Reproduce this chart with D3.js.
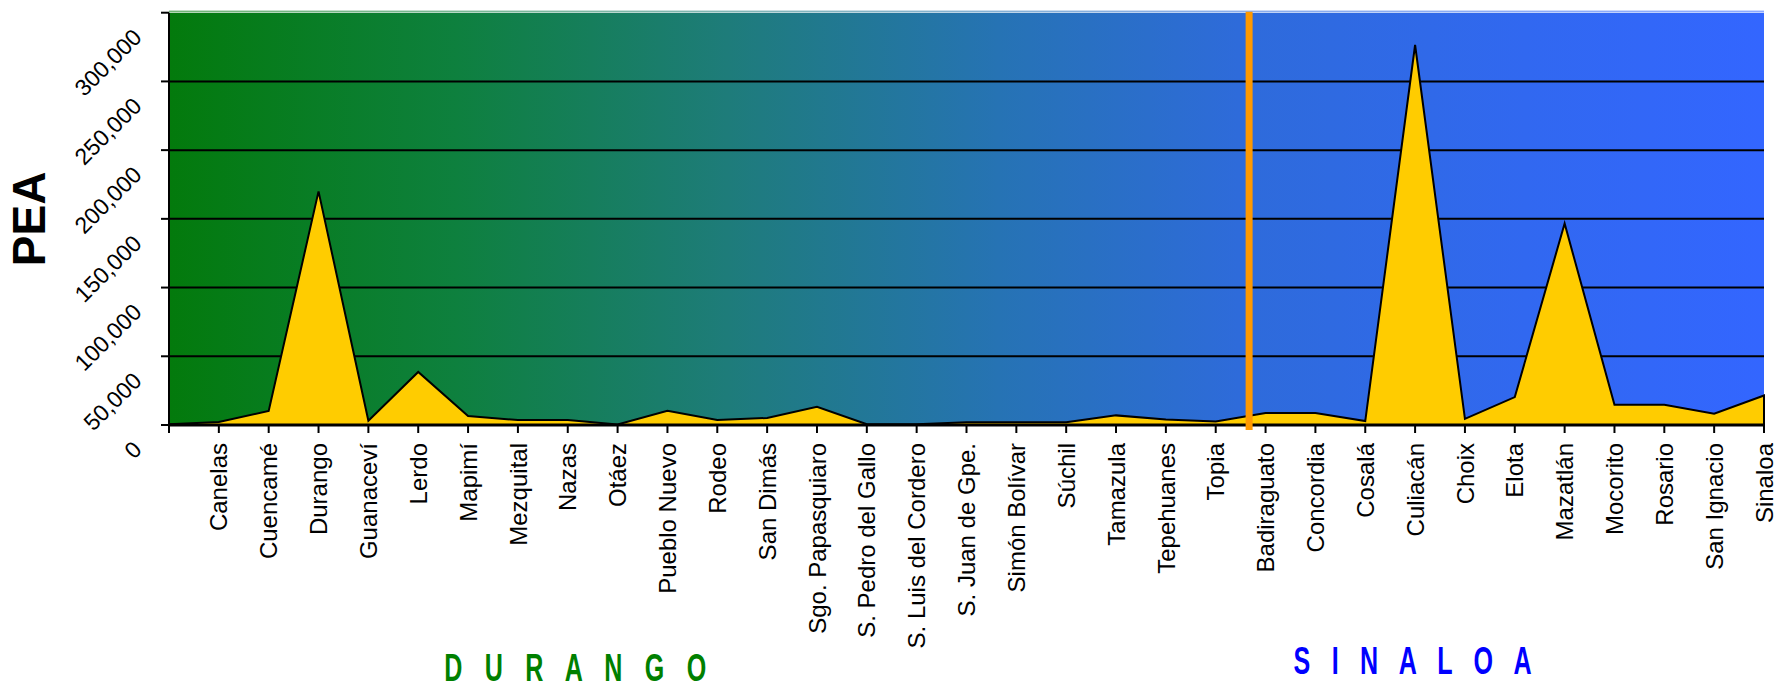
<!DOCTYPE html>
<html>
<head>
<meta charset="utf-8">
<script src="https://cdn.jsdelivr.net/npm/d3@7"></script>
<style>
  html, body { margin: 0; padding: 0; background: #ffffff; }
  svg { display: block; }
  text { font-family: "Liberation Sans", Arial, sans-serif; }
</style>
</head>
<body>
<svg id="chart" width="1774" height="687"></svg>
<script>
// ---- data ----
const categories = ["", "Canelas", "Cuencamé", "Durango", "Guanaceví", "Lerdo", "Mapimí", "Mezquital", "Nazas", "Otáez",
  "Pueblo Nuevo", "Rodeo", "San Dimás", "Sgo. Papasquiaro", "S. Pedro del Gallo", "S. Luis del Cordero", "S. Juan de Gpe.",
  "Simón Bolívar", "Súchil", "Tamazula", "Tepehuanes", "Topia",
  "Badiraguato", "Concordia", "Cosalá", "Culiacán", "Choix", "Elota", "Mazatlán", "Mocorito", "Rosario", "San Ignacio", "Sinaloa"];
const pea = [500, 2200, 10200, 170000, 3100, 38600, 6500, 3600, 3600, 300,
  10400, 3600, 5100, 13300, 500, 500, 2000,
  2000, 2000, 7000, 4000, 2500,
  8800, 8800, 2900, 276500, 4500, 20300, 146600, 14700, 14700, 8200, 21500];
const yTicks = [0, 50000, 100000, 150000, 200000, 250000, 300000];
const yTitle = "PEA";
const stateNames = ["D U R A N G O", "S I N A L O A"];
const dividerAfter = "Topia";
const dividerOffset = 0.67; // fraction of a category step after "Topia"

// ---- layout ----
const svg = d3.select("#chart");
const margin = { left: 169, right: 10, top: 12.7, bottom: 262 };
const W = 1774, H = 687;
const x0 = margin.left, x1 = W - margin.right, y0 = margin.top, y1 = H - margin.bottom;

const x = d3.scalePoint().domain(categories).range([x0, x1]);
const y = d3.scaleLinear().domain([0, 300000]).range([y1, y0]);

// gradient
const defs = svg.append("defs");
const grad = defs.append("linearGradient").attr("id", "bg").attr("x1", 0).attr("x2", 1).attr("y1", 0).attr("y2", 0);
[[0, "rgb(3,122,12)"], [0.18, "rgb(14,128,62)"], [0.35, "rgb(30,124,122)"], [0.52, "rgb(38,115,180)"],
 [0.67, "rgb(46,107,218)"], [0.85, "rgb(49,104,240)"], [1, "rgb(51,102,255)"]]
  .forEach(([o, c]) => grad.append("stop").attr("offset", o).attr("stop-color", c));

// thin top line
svg.append("rect").attr("x", x0).attr("y", y0 - 2).attr("width", x1 - x0).attr("height", 1).attr("fill", "url(#bg)").attr("opacity", 0.8);
// plot background
svg.append("rect").attr("x", x0).attr("y", y0).attr("width", x1 - x0).attr("height", y1 - y0).attr("fill", "url(#bg)");

// gridlines
svg.append("g").selectAll("line").data(yTicks.filter(d => d > 0 && d < 300000)).join("line")
  .attr("x1", x0).attr("x2", x1).attr("y1", d => y(d)).attr("y2", d => y(d))
  .attr("stroke", "#000").attr("stroke-width", 2);

// area
const area = d3.area().x((d, i) => x(categories[i])).y0(y(0)).y1(d => y(d));
svg.append("path").datum(pea).attr("d", area)
  .attr("fill", "#ffcc00").attr("stroke", "#000").attr("stroke-width", 2).attr("stroke-linejoin", "miter");

// y axis
svg.append("line").attr("x1", x0).attr("x2", x0).attr("y1", y0).attr("y2", y1).attr("stroke", "#000").attr("stroke-width", 2);
svg.append("g").selectAll("line").data(yTicks).join("line")
  .attr("x1", x0 - 8).attr("x2", x0).attr("y1", d => y(d)).attr("y2", d => y(d))
  .attr("stroke", "#000").attr("stroke-width", 2);
const fmt = d3.format(",");
svg.append("g").selectAll("text").data(yTicks).join("text")
  .attr("transform", d => `translate(${x0 - 26},${y(d) + 26}) rotate(-45)`)
  .attr("text-anchor", "end")
  .attr("font-size", 23)
  .attr("fill", "#000")
  .text(d => fmt(d));

// x axis
svg.append("line").attr("x1", x0 - 1).attr("x2", x1 + 1).attr("y1", y1).attr("y2", y1).attr("stroke", "#000").attr("stroke-width", 3);
svg.append("g").selectAll("line").data(categories).join("line")
  .attr("x1", d => x(d)).attr("x2", d => x(d)).attr("y1", y1).attr("y2", y1 + 8)
  .attr("stroke", "#000").attr("stroke-width", 2);
svg.append("g").selectAll("text").data(categories).join("text")
  .attr("transform", d => `translate(${x(d)},${y1 + 18}) rotate(-90)`)
  .attr("text-anchor", "end")
  .attr("dy", "0.36em")
  .attr("font-size", 24)
  .attr("fill", "#000")
  .text(d => d);

// divider
const xd = x(dividerAfter) + dividerOffset * x.step();
svg.append("line").attr("x1", xd).attr("x2", xd).attr("y1", y0 - 1).attr("y2", y1 + 5)
  .attr("stroke", "#ff9900").attr("stroke-width", 7);

// y title
svg.append("text")
  .attr("transform", `translate(${29},${(y0 + y1) / 2 + 0}) rotate(-90)`)
  .attr("text-anchor", "middle").attr("dy", "0.35em")
  .attr("font-size", 46).attr("font-weight", "bold").attr("fill", "#000")
  .text(yTitle);

// state labels
const stateLayout = [
  { cx: x("Otáez") - 0.85 * x.step(), base: 681, width: 262, color: "#008000" },
  { cx: x("Culiacán") - 0.05 * x.step(), base: 674, width: 238, color: "#0000ff" }
];
stateNames.forEach((name, i) => {
  const s = stateLayout[i];
  const sx = 0.66;
  const g = svg.append("g").attr("transform", `translate(${s.cx},${s.base}) scale(${sx},1)`);
  g.append("text")
    .attr("text-anchor", "middle")
    .attr("font-size", 38).attr("font-weight", "bold").attr("fill", s.color)
    .attr("textLength", s.width / sx).attr("lengthAdjust", "spacing")
    .text(name);
});
</script>
</body>
</html>
